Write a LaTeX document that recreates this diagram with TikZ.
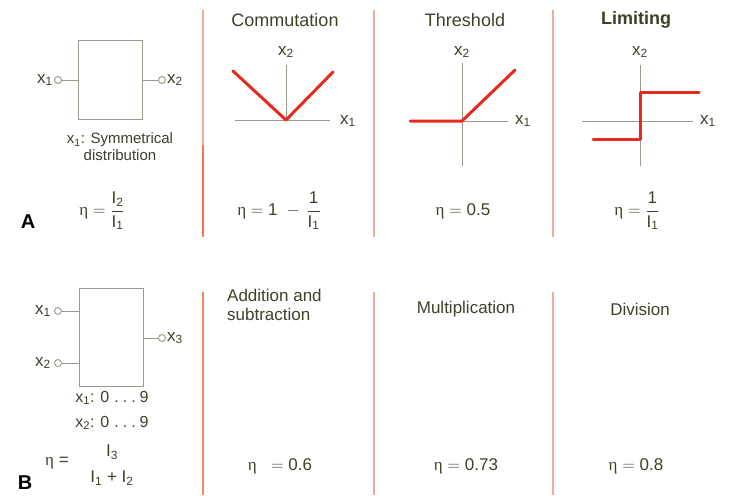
\documentclass[tikz,border=0pt]{standalone}
\usepackage{fontspec}
\usepackage{amsmath}
\setmainfont{Liberation Sans}
\newfontfamily\etafont{Liberation Serif}
\usetikzlibrary{positioning}
\definecolor{ink}{HTML}{3B4228}
\definecolor{plotred}{HTML}{E62A1E}
\definecolor{rulepink}{HTML}{EFAE90}
\definecolor{ruleorange}{HTML}{F07848}
\definecolor{linegray}{HTML}{989A8A}

\begin{document}
\begin{tikzpicture}[x=1pt, y=-1pt,
  every node/.style={text=ink, inner sep=1pt},
  title/.style={font=\fontsize{18}{19}\selectfont},
  lbl/.style={font=\fontsize{17}{19}\selectfont},
  note/.style={font=\fontsize{15}{17}\selectfont, align=center},
  eq/.style={font=\fontsize{17}{19}\selectfont},
  tag/.style={font=\fontsize{20}{20}\selectfont\bfseries, text=black},
  block/.style={draw=linegray, line width=1pt, minimum width=64pt, inner sep=0pt},
  term/.style={circle, draw=linegray, fill=white, line width=0.9pt, minimum size=7pt, inner sep=0pt},
  wire/.style={draw=linegray, line width=1pt},
  sep/.style={line width=2pt},
  axis/.style={draw=linegray, line width=0.8pt},
  curve/.style={draw=plotred, line width=3pt, line cap=round, line join=round}]
  \useasboundingbox (0,0) rectangle (733,495);
  % column rules
  \draw[sep, rulepink] (203,10) -- (203,145); \draw[sep, ruleorange] (203,145) -- (203,237);
  \draw[sep, rulepink] (374,10) -- (374,237); \draw[sep, rulepink] (553,10) -- (553,237);
  \draw[sep, ruleorange!70!rulepink] (203,292) -- (203,495);
  \draw[sep, rulepink] (374,292) -- (374,495); \draw[sep, rulepink] (553,292) -- (553,495);
  % A: one input
  \node[block, minimum height=78pt] (boxA) at (110,80) {};
  \node[term] (inA) at (58,80) {};
  \node[term] (outA) at (162,80) {};
  \node[lbl, left=0pt of inA] (inAlbl) {x\textsubscript{1}};
  \node[lbl, right=0pt of outA] (outAlbl) {x\textsubscript{2}};
  \draw[wire] (inA) -- (boxA.west); \draw[wire] (boxA.east) -- (outA);
  \node[note] (distA) at (120,147) {x\textsubscript{1}: Symmetrical\\distribution};
  \node[eq] (etaA) at (102,211) {$\text{\etafont η}=\dfrac{\text{I\textsubscript{2}}}{\text{I\textsubscript{1}}}$};
  \node[tag] (tagA) at (28,222) {A};
  % commutation
  \node[title] (commT) at (285,20) {Commutation};
  \draw[axis] (286,65) -- (286,120); \draw[axis] (235,120) -- (330,120);
  \draw[curve] (233,71) -- (286,120) -- (333,72);
  \node[lbl] (commX2) at (286,52) {x\textsubscript{2}};
  \node[lbl] (commX1) at (348,121) {x\textsubscript{1}};
  \node[eq] (etaComm) at (279,211) {$\text{\etafont η}=\text{1}\;-\,\dfrac{\text{1}}{\text{I\textsubscript{1}}}$};
  % threshold
  \node[title] (threshT) at (465,20) {Threshold};
  \draw[axis] (462,63) -- (462,166); \draw[axis] (410,121) -- (508,121);
  \draw[curve] (410,121) -- (462,121) -- (515,70);
  \node[lbl] (threshX2) at (462,52) {x\textsubscript{2}};
  \node[lbl] (threshX1) at (523,121) {x\textsubscript{1}};
  \node[eq] (etaThresh) at (463,211) {$\text{\etafont η}=\text{0.5}$};
  % limiting
  \node[title, font=\fontsize{18}{19}\selectfont\bfseries] (limT) at (636,20) {Limiting};
  \draw[axis] (640,65) -- (640,166); \draw[axis] (582,121) -- (693,121);
  \draw[curve] (593,139) -- (640,139) -- (640,92) -- (699,92);
  \node[lbl] (limX2) at (640,52) {x\textsubscript{2}};
  \node[lbl] (limX1) at (708,121) {x\textsubscript{1}};
  \node[eq] (etaLim) at (637,211) {$\text{\etafont η}=\dfrac{\text{1}}{\text{I\textsubscript{1}}}$};
  % B: two inputs
  \node[block, minimum height=98pt] (boxB) at (111,337) {};
  \node[term] (inB1) at (58,311) {};
  \node[term] (inB2) at (58,363) {};
  \node[term] (outB) at (162,338) {};
  \node[lbl, left=2pt of inB1] (inB1lbl) {x\textsubscript{1}};
  \node[lbl, left=2pt of inB2] (inB2lbl) {x\textsubscript{2}};
  \node[lbl, right=0pt of outB] (outBlbl) {x\textsubscript{3}};
  \draw[wire] (inB1) -- (inB1 -| boxB.west); \draw[wire] (inB2) -- (inB2 -| boxB.west);
  \draw[wire] (outB -| boxB.east) -- (outB);
  \node[note, font=\fontsize{16}{18}\selectfont] (rangeB1) at (112,398) {x\textsubscript{1}: 0\hspace{5pt}.\hspace{4pt}.\hspace{4pt}.\hspace{4pt}9};
  \node[note, font=\fontsize{16}{18}\selectfont] (rangeB2) at (112,423) {x\textsubscript{2}: 0\hspace{5pt}.\hspace{4pt}.\hspace{4pt}.\hspace{4pt}9};
  \node[eq] (denB) at (112,478) {I\textsubscript{1} + I\textsubscript{2}};
  \node[eq] (numB) at (112,452) {I\textsubscript{3}};
  \node[eq] (etaB) at (57,463) {{\etafont η} =};
  \node[tag] (tagB) at (25,483) {B};
  % bottom columns
  \node[title, align=left, anchor=north west, font=\fontsize{17}{19}\selectfont] (addT) at (226,288) {Addition and\\subtraction};
  \node[title, font=\fontsize{17}{19}\selectfont] (mulT) at (466,309) {Multiplication};
  \node[title, font=\fontsize{17}{19}\selectfont] (divT) at (640,309) {Division};
  \node[eq] (etaAdd) at (280,466) {$\text{\etafont η}\;\;=\text{0.6}$};
  \node[eq] (etaMul) at (466,466) {$\text{\etafont η}=\text{0.73}$};
  \node[eq] (etaDiv) at (636,466) {$\text{\etafont η}=\text{0.8}$};
\end{tikzpicture}
\end{document}
